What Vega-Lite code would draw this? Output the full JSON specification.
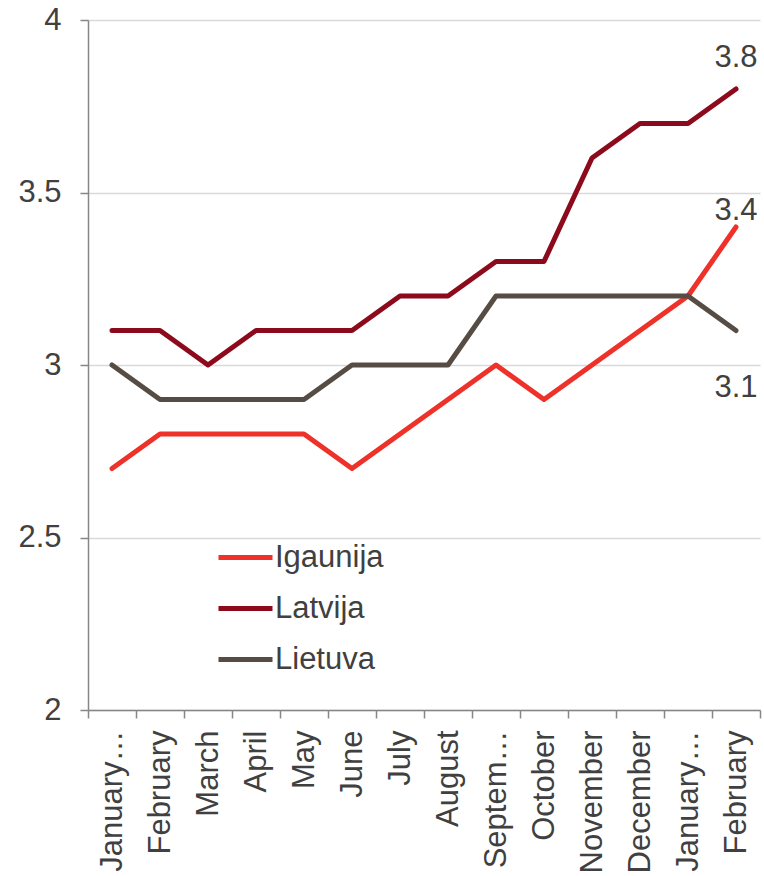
{
  "$schema": "https://vega.github.io/schema/vega-lite/v6.json",
  "width": 672,
  "height": 690,
  "autosize": {"type": "none"},
  "padding": {"left": 88, "top": 20, "right": 4, "bottom": 166},
  "background": "white",
  "config": {
    "font": "Liberation Sans",
    "view": {"stroke": null},
    "axis": {"labelFont": "Liberation Sans", "labelColor": "#404040", "labelFontSize": 31, "domainColor": "#868686", "tickColor": "#868686", "tickSize": 8, "domainWidth": 1.5, "tickWidth": 1.5, "title": null},
    "legend": {"labelFont": "Liberation Sans", "labelFontSize": 31, "labelColor": "#404040"}
  },
  "data": {"values": [
    {"month": "January 2013", "country": "Igaunija", "value": 2.7},
    {"month": "February 2013", "country": "Igaunija", "value": 2.8},
    {"month": "March", "country": "Igaunija", "value": 2.8},
    {"month": "April", "country": "Igaunija", "value": 2.8},
    {"month": "May", "country": "Igaunija", "value": 2.8},
    {"month": "June", "country": "Igaunija", "value": 2.7},
    {"month": "July", "country": "Igaunija", "value": 2.8},
    {"month": "August", "country": "Igaunija", "value": 2.9},
    {"month": "September", "country": "Igaunija", "value": 3.0},
    {"month": "October", "country": "Igaunija", "value": 2.9},
    {"month": "November", "country": "Igaunija", "value": 3.0},
    {"month": "December", "country": "Igaunija", "value": 3.1},
    {"month": "January 2014", "country": "Igaunija", "value": 3.2},
    {"month": "February", "country": "Igaunija", "value": 3.4},
    {"month": "January 2013", "country": "Latvija", "value": 3.1},
    {"month": "February 2013", "country": "Latvija", "value": 3.1},
    {"month": "March", "country": "Latvija", "value": 3.0},
    {"month": "April", "country": "Latvija", "value": 3.1},
    {"month": "May", "country": "Latvija", "value": 3.1},
    {"month": "June", "country": "Latvija", "value": 3.1},
    {"month": "July", "country": "Latvija", "value": 3.2},
    {"month": "August", "country": "Latvija", "value": 3.2},
    {"month": "September", "country": "Latvija", "value": 3.3},
    {"month": "October", "country": "Latvija", "value": 3.3},
    {"month": "November", "country": "Latvija", "value": 3.6},
    {"month": "December", "country": "Latvija", "value": 3.7},
    {"month": "January 2014", "country": "Latvija", "value": 3.7},
    {"month": "February", "country": "Latvija", "value": 3.8},
    {"month": "January 2013", "country": "Lietuva", "value": 3.0},
    {"month": "February 2013", "country": "Lietuva", "value": 2.9},
    {"month": "March", "country": "Lietuva", "value": 2.9},
    {"month": "April", "country": "Lietuva", "value": 2.9},
    {"month": "May", "country": "Lietuva", "value": 2.9},
    {"month": "June", "country": "Lietuva", "value": 3.0},
    {"month": "July", "country": "Lietuva", "value": 3.0},
    {"month": "August", "country": "Lietuva", "value": 3.0},
    {"month": "September", "country": "Lietuva", "value": 3.2},
    {"month": "October", "country": "Lietuva", "value": 3.2},
    {"month": "November", "country": "Lietuva", "value": 3.2},
    {"month": "December", "country": "Lietuva", "value": 3.2},
    {"month": "January 2014", "country": "Lietuva", "value": 3.2},
    {"month": "February", "country": "Lietuva", "value": 3.1}
  ]},
  "encoding": {
    "x": {
      "field": "month", "type": "nominal", "sort": null,
      "scale": {"type": "band", "paddingInner": 0, "paddingOuter": 0},
      "axis": {"labelAngle": -90, "labelPadding": 12, "labelLimit": 146, "tickBand": "extent", "grid": false,
               "labelExpr": "datum.label == 'February 2013' ? 'February' : datum.label"}
    },
    "y": {
      "field": "value", "type": "quantitative",
      "scale": {"domain": [2, 4], "nice": false, "zero": false},
      "axis": {"values": [2, 2.5, 3, 3.5, 4], "format": "~g", "labelPadding": 19, "grid": true, "gridColor": "#D9D9D9", "gridWidth": 1.5}
    }
  },
  "layer": [
    {
      "mark": {"type": "line", "strokeWidth": 5, "strokeCap": "round", "strokeJoin": "round"},
      "encoding": {
        "color": {
          "field": "country", "type": "nominal",
          "scale": {"domain": ["Igaunija", "Latvija", "Lietuva"], "range": ["#EE3129", "#8C0A1C", "#564C43"]},
          "legend": {"title": null, "orient": "none", "legendX": 128, "legendY": 508, "symbolType": "stroke", "symbolSize": 2916, "symbolStrokeWidth": 5, "labelOffset": 0, "rowPadding": 6}
        }
      }
    },
    {
      "transform": [{"filter": "datum.month == 'February' && datum.country == 'Latvija'"}],
      "mark": {"type": "text", "fontSize": 31, "color": "#404040", "dy": -31, "align": "center", "baseline": "middle"},
      "encoding": {"text": {"field": "value", "type": "quantitative", "format": ".1f"}}
    },
    {
      "transform": [{"filter": "datum.month == 'February' && datum.country == 'Igaunija'"}],
      "mark": {"type": "text", "fontSize": 31, "color": "#404040", "dy": -16, "align": "center", "baseline": "middle"},
      "encoding": {"text": {"field": "value", "type": "quantitative", "format": ".1f"}}
    },
    {
      "transform": [{"filter": "datum.month == 'February' && datum.country == 'Lietuva'"}],
      "mark": {"type": "text", "fontSize": 31, "color": "#404040", "dy": 57, "align": "center", "baseline": "middle"},
      "encoding": {"text": {"field": "value", "type": "quantitative", "format": ".1f"}}
    }
  ]
}
